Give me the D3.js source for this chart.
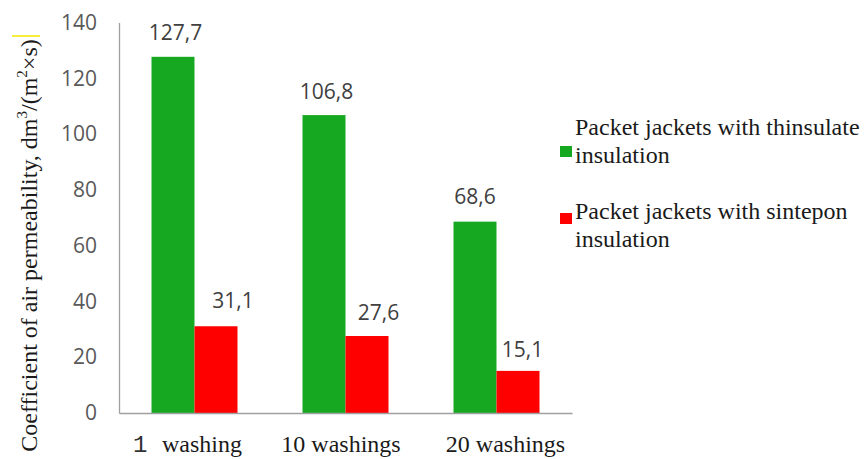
<!DOCTYPE html>
<html>
<head>
<meta charset="utf-8">
<script src="https://cdn.jsdelivr.net/npm/d3@7/dist/d3.min.js"></script>
<style>
  html, body { margin: 0; padding: 0; background: #fff; }
  svg { display: block; }
</style>
</head>
<body>
<svg id="chart" width="867" height="459"></svg>
<script>
// Air permeability of packet jackets after repeated washing
const categories = ["1", "10", "20"];
const categoryWords = ["washing", "washings", "washings"];
const seriesNames = [
  ["Packet jackets with thinsulate", "insulation"],
  ["Packet jackets with sintepon", "insulation"]
];
const thinsulate = [127.7, 106.8, 68.6];
const sintepon = [31.1, 27.6, 15.1];
const valueLabels = [["127,7", "106,8", "68,6"], ["31,1", "27,6", "15,1"]];
const yTicks = [0, 20, 40, 60, 80, 100, 120, 140];

// layout
const SERIF = "Liberation Serif";
const MONO = "Liberation Mono";
const NUM = "Open Sans";
const colors = ["#17a822", "#ff0000"];
const labelDx = [[2.5, 2.5, 0], [17, 11.5, 4.5]];
const labelGap = [[24, 23, 25], [26, 23, 21]];
const catDx = [-7, -4.5, 9];

const svg = d3.select("#chart");
const x0 = d3.scaleBand().domain(categories).range([119, 572]).padding(0);
const barW = 43;
const y = d3.scaleLinear().domain([0, 140]).range([413, 22.5]);

const series = [thinsulate, sintepon];

// bars
series.forEach((vals, s) => {
  svg.append("g").selectAll("rect").data(vals).join("rect")
    .attr("x", (d, i) => x0(categories[i]) + x0.bandwidth() / 2 - barW + s * barW)
    .attr("y", d => y(d))
    .attr("width", barW)
    .attr("height", d => y(0) - y(d))
    .attr("fill", colors[s]);
});

// value labels
series.forEach((vals, s) => {
  svg.append("g").selectAll("text").data(vals).join("text")
    .attr("x", (d, i) => x0(categories[i]) + x0.bandwidth() / 2 - barW / 2 + s * barW + labelDx[s][i])
    .attr("y", (d, i) => y(d) - labelGap[s][i])
    .attr("dy", "0.35em")
    .attr("text-anchor", "middle")
    .style("font-family", NUM)
    .style("font-size", "21px")
    .attr("fill", "#404040")
    .text((d, i) => valueLabels[s][i]);
});

// axes lines
const yAxis = svg.append("g").attr("transform", "translate(119,0)")
  .call(d3.axisLeft(y).tickValues(yTicks).tickSize(0).tickPadding(22).tickFormat(d3.format("d")));
yAxis.select(".domain").attr("stroke", "#a0a0a0").attr("stroke-width", 1.3);
yAxis.selectAll("text")
  .style("font-family", NUM)
  .style("font-size", "21px")
  .attr("fill", "#595959");

const xAxis = svg.append("g").attr("transform", "translate(0,413)")
  .call(d3.axisBottom(x0).tickSize(0).tickFormat(() => ""));
xAxis.select(".domain").attr("stroke", "#a0a0a0").attr("stroke-width", 1.3);

// category labels
const catG = svg.append("g");
categories.forEach((c, i) => {
  const t = catG.append("text")
    .attr("x", x0(c) + x0.bandwidth() / 2 + catDx[i])
    .attr("y", 452)
    .attr("text-anchor", "middle")
    .style("font-family", SERIF)
    .style("font-size", "24px")
    .attr("fill", "#1a1a1a");
  if (c === "1") {
    t.append("tspan").style("font-family", MONO).attr("fill", "#333").text(c + " ");
    t.append("tspan").text(" " + categoryWords[i]);
  } else {
    t.text(c + " " + categoryWords[i]);
  }
});

// y-axis title
const title = svg.append("text")
  .attr("transform", "translate(37,245.5) rotate(-90)")
  .attr("text-anchor", "middle")
  .style("font-family", SERIF)
  .style("font-size", "24px")
  .attr("fill", "#1a1a1a");
title.append("tspan").text("Coefficient of air permeability, dm");
title.append("tspan").style("font-size", "15px").attr("dy", -10).text("3");
title.append("tspan").attr("dy", 10).text("/(m");
title.append("tspan").style("font-size", "15px").attr("dy", -10).text("2");
title.append("tspan").attr("dy", 10).text("\u00d7s)");

// yellow mark near the title end
svg.append("line")
  .attr("x1", 12).attr("x2", 40).attr("y1", 36).attr("y2", 36)
  .attr("stroke", "#f5e800").attr("stroke-width", 1.5);

// legend
const legendTop = [135, 219];
const swatchTop = [146, 213];
seriesNames.forEach((lines, s) => {
  svg.append("rect")
    .attr("x", 560).attr("y", swatchTop[s])
    .attr("width", 12).attr("height", 11)
    .attr("fill", colors[s]);
  const t = svg.append("text")
    .attr("x", 575).attr("y", legendTop[s])
    .style("font-family", SERIF)
    .style("font-size", "24px")
    .attr("fill", "#1a1a1a");
  lines.forEach((ln, k) => {
    t.append("tspan").attr("x", 575).attr("dy", k === 0 ? 0 : 28).text(ln);
  });
});
</script>
</body>
</html>
